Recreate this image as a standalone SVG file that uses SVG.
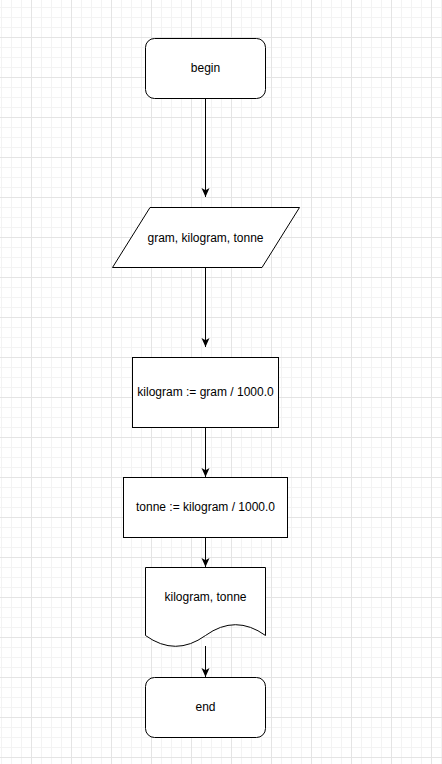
<svg xmlns="http://www.w3.org/2000/svg" width="442" height="764" viewBox="0 0 442 764">
<defs>
<pattern id="minor" x="1" y="7" width="10" height="10" patternUnits="userSpaceOnUse">
<path d="M0.5,0 V10 M0,0.5 H10" fill="none" stroke="#f3f3f3" stroke-width="1"/>
</pattern>
<pattern id="major" x="31" y="37" width="40" height="40" patternUnits="userSpaceOnUse">
<path d="M0.5,0 V40 M0,0.5 H40" fill="none" stroke="#e4e4e4" stroke-width="1"/>
</pattern>
<marker id="arr" markerUnits="userSpaceOnUse" markerWidth="12" markerHeight="12" refX="9" refY="4" orient="auto">
<path d="M0,0 L9,4 L0,8 L2.2,4 Z" fill="#000"/>
</marker>
</defs>
<style>
.shape{fill:#fff;stroke:#000;stroke-width:1}
.lbl{font-family:"Liberation Sans",Arial,sans-serif;font-size:12px;fill:#000;text-anchor:middle}
.edge{fill:none;stroke:#000;stroke-width:1;marker-end:url(#arr)}
</style>
<rect width="442" height="764" fill="#fff"/>
<rect width="442" height="764" fill="url(#minor)"/>
<rect width="442" height="764" fill="url(#major)"/>
<g id="connectors">
<path class="edge" d="M205.5,98.5 V197"/>
<path class="edge" d="M205.5,267.5 V347"/>
<path class="edge" d="M205.5,427.5 V477"/>
<path class="edge" d="M205.5,537.5 V567"/>
<path class="edge" d="M205.5,646 V677"/>
</g>
<g id="begin">
<rect class="shape" x="145.5" y="38.5" width="120" height="60" rx="9" ry="9"/>
<text class="lbl" x="205.5" y="72">begin</text>
</g>
<g id="input">
<polygon class="shape" points="150,207.5 299.5,207.5 262,267.5 112.5,267.5"/>
<text class="lbl" x="205.5" y="242">gram, kilogram, tonne</text>
</g>
<g id="calc1">
<rect class="shape" x="132.5" y="357.5" width="146" height="70"/>
<text class="lbl" x="205.5" y="396">kilogram := gram / 1000.0</text>
</g>
<g id="calc2">
<rect class="shape" x="123.5" y="477.5" width="164" height="60"/>
<text class="lbl" x="205.5" y="511">tonne := kilogram / 1000.0</text>
</g>
<g id="output">
<path class="shape" d="M145.5,567.5 H265.5 V635.5 Q235.5,613.9 205.5,635.5 Q175.5,657.1 145.5,635.5 Z"/>
<text class="lbl" x="205.5" y="601">kilogram, tonne</text>
</g>
<g id="end">
<rect class="shape" x="145.5" y="677.5" width="120" height="60" rx="9" ry="9"/>
<text class="lbl" x="205.5" y="711">end</text>
</g>
</svg>
